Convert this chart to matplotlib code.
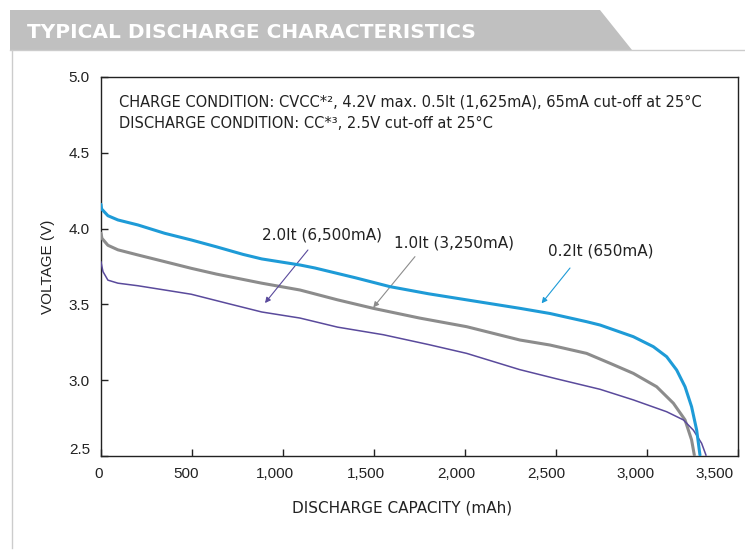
import matplotlib
matplotlib.use("Agg")
import matplotlib.pyplot as plt
from matplotlib.patches import Polygon
from matplotlib.lines import Line2D
from matplotlib.transforms import ScaledTranslation

plt.rcParams['font.family'] = ['Liberation Sans', 'DejaVu Sans']

# 0.2It (650mA)
cap_02 = [0, 3, 38, 93, 203, 350, 496, 634, 780, 883, 1093, 1176, 1400, 1588, 1800, 2009,
          2302, 2467, 2668, 2742, 2925, 3035, 3108, 3163, 3209, 3245, 3273, 3291]
v_02 = [4.16, 4.13, 4.085, 4.057, 4.024, 3.969, 3.925, 3.88, 3.83, 3.80, 3.76, 3.74, 3.675, 3.617, 3.57, 3.53,
        3.474, 3.44, 3.386, 3.364, 3.287, 3.221, 3.155, 3.067, 2.957, 2.825, 2.67, 2.506]

# 1.0It (3,250mA)
cap_10 = [0, 5, 38, 93, 203, 350, 496, 634, 883, 1093, 1300, 1496, 1750, 2009, 2302,
          2467, 2668, 2800, 2925, 3053, 3145, 3209, 3245, 3260]
v_10 = [3.97, 3.936, 3.89, 3.86, 3.826, 3.782, 3.738, 3.70, 3.64, 3.595, 3.53, 3.474, 3.41, 3.353, 3.265,
        3.232, 3.177, 3.11, 3.045, 2.957, 2.848, 2.738, 2.606, 2.506]

# 2.0It (6,500mA)
cap_20 = [0, 5, 11, 38, 93, 203, 350, 496, 700, 883, 1093, 1300, 1551, 1800, 2009, 2300,
          2500, 2742, 2925, 3108, 3200, 3255, 3300, 3324]
v_20 = [3.78, 3.75, 3.716, 3.66, 3.64, 3.623, 3.595, 3.567, 3.505, 3.45, 3.41, 3.35, 3.30, 3.235, 3.177, 3.07,
        3.01, 2.94, 2.87, 2.792, 2.738, 2.67, 2.584, 2.506]

x_ticks = [0, 500, 1000, 1500, 2000, 2500, 3000, 3500]
x_labels = ['0', '500', '1,000', '1,500', '2,000', '2,500', '3,000', '3,500']
y_ticks = [2.5, 3.0, 3.5, 4.0, 4.5, 5.0]
y_labels = ['2.5', '3.0', '3.5', '4.0', '4.5', '5.0']

blue = '#1e9bd7'
gray = '#8c8c8c'
purple = '#5a4a9c'
txt = '#222222'
dv = 'DejaVu Sans'

W, H = 745, 550
fig = plt.figure(figsize=(W / 100, H / 100), dpi=100)

# header banner
def px(x, y):
    return (x / W, 1 - y / H)

banner = Polygon([px(10, 10), px(600, 10), px(632, 50), px(10, 50)], closed=True,
                 transform=fig.transFigure, facecolor='#c0c0c0', edgecolor='none')
fig.patches.append(banner)
fig.lines.append(Line2D([12 / W, 12 / W], [1 - 50 / H, 1 - 548 / H], transform=fig.transFigure,
                        color='#cccccc', lw=1))
fig.lines.append(Line2D([10 / W, 1], [1 - 50 / H, 1 - 50 / H], transform=fig.transFigure,
                        color='#cccccc', lw=1))
fig.text(27 / W, 1 - 33 / H, 'TYPICAL DISCHARGE CHARACTERISTICS', color='white', family=dv,
         fontsize=14.5, fontweight='bold', va='center', ha='left')

ax = fig.add_axes([101 / W, 1 - 456 / H, 637 / W, 379 / H])
ax.plot(cap_10, v_10, color=gray, lw=2.2, solid_capstyle='round', solid_joinstyle='round', zorder=3)
ax.plot(cap_20, v_20, color=purple, lw=1.1, solid_joinstyle='round', zorder=4)
ax.plot(cap_02, v_02, color=blue, lw=2.2, solid_capstyle='round', solid_joinstyle='round', zorder=5)

ax.set_xlim(0, 3500)
ax.set_ylim(2.5, 5.0)
ax.set_xticks(x_ticks)
ax.set_xticklabels(x_labels)
ax.set_yticks(y_ticks)
ax.set_yticklabels(y_labels)
ax.tick_params(direction='in', length=5, width=1, labelsize=11, colors=txt, pad=8)
for s in ax.spines.values():
    s.set_color(txt)
    s.set_linewidth(1)

x_shift = [-2, -6, -8, -8, -9, -10, -11, -23]
for lab, dx in zip(ax.get_xticklabels(), x_shift):
    lab.set_transform(lab.get_transform() + ScaledTranslation(dx / 100, 0, fig.dpi_scale_trans))
ylab = ax.get_yticklabels()
ylab[0].set_transform(ylab[0].get_transform() + ScaledTranslation(0, 7 / 100, fig.dpi_scale_trans))

ax.set_xlabel('DISCHARGE CAPACITY (mAh)', fontsize=11, color=txt, family=dv)
ax.xaxis.set_label_coords((402 - 101) / 637, -0.118)
ax.set_ylabel('VOLTAGE (V)', fontsize=11, color=txt, labelpad=10)

ax.text(0.029, 0.935, 'CHARGE CONDITION: CVCC*², 4.2V max. 0.5It (1,625mA), 65mA cut-off at 25°C',
        transform=ax.transAxes, fontsize=10.5, color=txt, va='center', family=dv)
ax.text(0.029, 0.878, 'DISCHARGE CONDITION: CC*³, 2.5V cut-off at 25°C',
        transform=ax.transAxes, fontsize=10.5, color=txt, va='center', family=dv)

arrow = dict(arrowstyle='-|>', lw=0.8, mutation_scale=8, shrinkA=0, shrinkB=0)
ax.text(1217, 3.955, '2.0It (6,500mA)', fontsize=11, color=txt, ha='center', va='center', family=dv)
ax.annotate('', xy=(901, 3.509), xytext=(1137, 3.859), arrowprops=dict(arrow, color=purple))
ax.text(1937, 3.902, '1.0It (3,250mA)', fontsize=11, color=txt, ha='center', va='center', family=dv)
ax.annotate('', xy=(1496, 3.48), xytext=(1725, 3.815), arrowprops=dict(arrow, color=gray))
ax.text(2747, 3.849, '0.2It (650mA)', fontsize=11, color=txt, ha='center', va='center', family=dv)
ax.annotate('', xy=(2421, 3.507), xytext=(2577, 3.74), arrowprops=dict(arrow, color=blue))

fig.savefig('out.png', dpi=100)
